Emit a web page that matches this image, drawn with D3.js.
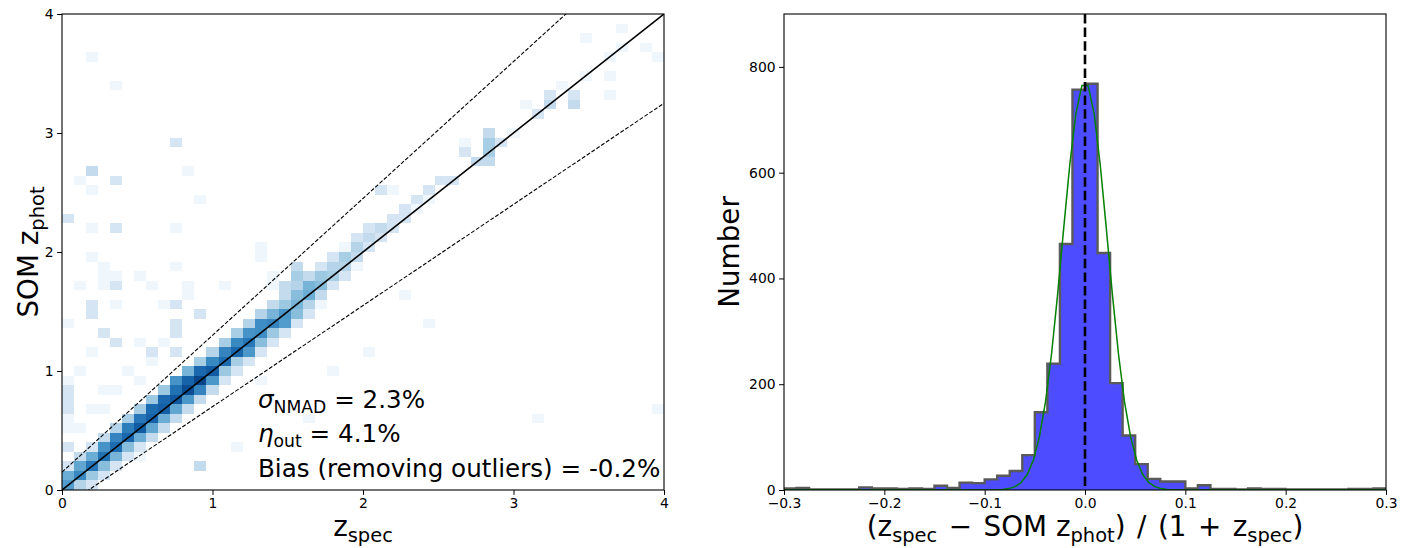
<!DOCTYPE html>
<html><head><meta charset="utf-8">
<script src="https://cdn.jsdelivr.net/npm/d3@7"></script>
<style>
body{margin:0;background:#fff}
svg{display:block}
text{font-family:"DejaVu Sans",sans-serif;fill:#000}
</style>
</head><body>
<svg id="c" width="1416" height="548"></svg>
<script>
// ---------------- DATA ----------------
// 2D histogram (z_spec bin index, z_phot bin index, count); bins of 0.08 over [0,4]
const hist2dBin = 0.08;
const hist2dCells = [
[0,0,18],[0,1,12],[0,2,2],
[1,0,4],[1,1,28],[1,2,14],[1,3,3],
[2,0,2],[2,1,6],[2,2,40],[2,3,12],[2,4,2],
[3,1,2],[3,2,8],[3,3,45],[3,4,22],[3,5,3],
[4,2,2],[4,3,10],[4,4,50],[4,5,30],[4,6,4],
[5,3,2],[5,4,8],[5,5,55],[5,6,35],[5,7,5],
[6,4,2],[6,5,12],[6,6,70],[6,7,40],[6,8,5],
[7,5,3],[7,6,14],[7,7,60],[7,8,50],[7,9,6],
[8,6,3],[8,7,12],[8,8,65],[8,9,55],[8,10,6],
[9,7,3],[9,8,14],[9,9,75],[9,10,45],[9,11,22],
[10,8,3],[10,9,20],[10,10,95],[10,11,60],[10,12,10],
[11,9,3],[11,10,30],[11,11,110],[11,12,55],[11,13,5],
[12,10,3],[12,11,20],[12,12,70],[12,13,28],[12,14,4],
[13,11,2],[13,12,6],[13,13,50],[13,14,30],[13,15,5],
[14,12,2],[14,13,5],[14,14,55],[14,15,28],[14,16,5],
[15,13,2],[15,14,20],[15,15,40],[15,16,22],[15,17,4],
[16,14,2],[16,15,8],[16,16,25],[16,17,25],[16,18,4],
[17,15,2],[17,16,6],[17,17,30],[17,18,10],[17,19,3],
[18,16,2],[18,17,18],[18,18,20],[18,19,6],[18,20,3],
[19,17,2],[19,18,8],[19,19,10],[19,20,8],[19,21,4],
[20,18,2],[20,19,4],[20,20,12],[20,21,10],[20,22,3],
[21,19,1],[21,20,3],[21,21,8],[21,22,6],[21,23,2],
[22,21,2],[22,22,5],[22,23,4],[22,24,2],
[23,22,2],[23,23,4],[23,24,5],[23,25,1],
[24,23,1],[24,24,3],[24,25,4],[24,26,2],
[25,25,2],[25,26,3],[25,27,2],
[26,26,2],[26,27,3],[26,31,2],
[27,27,2],[27,28,2],[27,31,1],
[28,28,2],[28,29,2],
[29,29,1],[29,30,2],
[30,30,1],[30,31,2],
[31,32,2],[32,32,2],
[33,35,2],[33,36,1],
[34,34,3],[35,34,3],[35,35,5],[35,36,5],[35,37,3],
[36,36,2],[37,37,1],[38,40,1],[39,39,2],[40,40,3],[40,41,2],[41,42,1],[42,40,3],[42,41,2],
[43,43,1],[43,47,1],[45,41,1],[45,43,1],[45,45,1],[46,46,1],[46,48,1],[48,46,1],[49,45,1],
[2,45,1],[4,42,1],[9,36,2],[2,33,3],[10,33,1],[1,32,1],[4,32,2],[2,31,1],[11,30,1],[0,28,2],
[2,27,1],[4,27,2],[9,27,1],[2,24,1],[16,24,1],[16,25,1],[3,22,1],[4,22,1],[3,23,1],[6,22,1],
[9,23,1],[1,21,1],[3,21,1],[4,21,2],[7,21,1],[10,21,1],[13,21,1],[17,21,1],[17,22,1],[18,21,3],
[19,22,5],[19,23,3],[2,19,2],[2,18,2],[4,19,1],[9,19,2],[8,19,1],[0,17,1],[9,17,2],[11,18,2],
[3,16,2],[6,15,1],[8,15,1],[4,15,2],[0,9,2],[0,10,2],[0,11,1],[0,8,2],[0,7,1],[0,4,2],[0,6,1],
[11,2,3],[6,3,1],[9,14,2],[9,16,2],[7,14,2],[10,20,1],
[39,7,1],[49,8,1],[16,11,1],[22,12,1],[25,14,1],[30,17,1],[28,20,1],[20,7,1],[14,4,1],
[1,12,1],[2,14,1],[3,10,1],[5,12,1],[1,6,1],[3,8,1],[6,11,1],[7,13,1],[4,10,1],[2,8,1]
];
const outlierCut = 0.15;
const statLines = [
  {sym:"σ", sub:"NMAD", rest:" = 2.3%"},
  {sym:"η", sub:"out", rest:" = 4.1%"},
  {sym:"", sub:"", rest:"Bias (removing outliers) = -0.2%"}
];
const leftTicks = [0,1,2,3,4];

// residual histogram: 48 bins over [-0.3, 0.3]
const residRange = [-0.3, 0.3];
const residCounts = [3,4,1,1,1,1,5,3,3,2,3,2,8,4,14,13,20,27,36,66,147,239,465,757,
                     768,448,202,103,49,21,16,16,3,9,2,2,1,3,2,2,1,1,1,1,1,2,2,3];
const gaussFit = {amp:772, mu:0.0, sigma:0.0225};
const rightXTicks = [-0.3,-0.2,-0.1,0.0,0.1,0.2,0.3];
const rightYTicks = [0,200,400,600,800];

// ---------------- LAYOUT ----------------
const svg = d3.select("#c");
const L = {x0:62, x1:664, y0:14, y1:490};
const R = {x0:784, x1:1386, y0:14, y1:490};
const tickFont = 13.9, labelFont = 27.8, annFont = 24.6;
const tickLen = 4.9, tickPad = 3.5;

// ===== LEFT PANEL =====
const xL = d3.scaleLinear().domain([0,4]).range([L.x0,L.x1]);
const yL = d3.scaleLinear().domain([0,4]).range([L.y1,L.y0]);
const color = d3.scaleSequentialLog(d3.interpolateBlues).domain([0.8,170]).clamp(true);

svg.append("clipPath").attr("id","clipL").append("rect")
  .attr("x",L.x0).attr("y",L.y0).attr("width",L.x1-L.x0).attr("height",L.y1-L.y0);

const gL = svg.append("g");
gL.append("g").attr("clip-path","url(#clipL)").attr("shape-rendering","crispEdges")
  .selectAll("rect").data(hist2dCells).join("rect")
  .attr("x",d=>xL(d[0]*hist2dBin))
  .attr("y",d=>yL((d[1]+1)*hist2dBin))
  .attr("width",d=>xL((d[0]+1)*hist2dBin)-xL(d[0]*hist2dBin))
  .attr("height",d=>yL(d[1]*hist2dBin)-yL((d[1]+1)*hist2dBin))
  .attr("fill",d=>color(d[2]));

const lineG = gL.append("g").attr("clip-path","url(#clipL)").attr("fill","none");
const line = d3.line().x(d=>xL(d[0])).y(d=>yL(d[1]));
lineG.append("path").attr("d",line([[0,0],[4,4]])).attr("stroke","#000").attr("stroke-width",1.6);
lineG.append("path").attr("d",line([[0,outlierCut],[4,4+outlierCut*5]])).attr("stroke","#000")
  .attr("stroke-width",1.1).attr("stroke-dasharray","4,1.8");
lineG.append("path").attr("d",line([[0,-outlierCut],[4,4-outlierCut*5]])).attr("stroke","#000")
  .attr("stroke-width",1.1).attr("stroke-dasharray","4,1.8");

// axes left
const axXL = d3.axisBottom(xL).tickValues(leftTicks).tickSize(tickLen).tickPadding(tickPad).tickFormat(d3.format("d"));
const axYL = d3.axisLeft(yL).tickValues(leftTicks).tickSize(tickLen).tickPadding(tickPad).tickFormat(d3.format("d"));
function styleAxis(g){
  g.select(".domain").remove();
  g.selectAll("line").attr("stroke","#000").attr("stroke-width",1);
  g.selectAll("text").attr("font-size",tickFont).attr("font-family","DejaVu Sans").attr("fill","#000");
}
gL.append("g").attr("transform",`translate(0,${L.y1})`).call(axXL).call(styleAxis);
gL.append("g").attr("transform",`translate(${L.x0},0)`).call(axYL).call(styleAxis);
gL.append("rect").attr("x",L.x0).attr("y",L.y0).attr("width",L.x1-L.x0).attr("height",L.y1-L.y0)
  .attr("fill","none").attr("stroke","#000").attr("stroke-width",1.1);

// stats text
const annY = [408, 442, 477];
statLines.forEach((s,k)=>{
  const t = gL.append("text").attr("x",258).attr("y",annY[k]).attr("font-size",annFont);
  if(s.sym){
    t.append("tspan").attr("font-style","italic").text(s.sym);
    t.append("tspan").attr("font-size",annFont*0.7).attr("dy",annFont*0.2).text(s.sub);
    t.append("tspan").attr("dy",-annFont*0.2).text(s.rest);
  } else t.append("tspan").text(s.rest);
});

// axis labels left
const xlabL = gL.append("text").attr("x",(L.x0+L.x1)/2).attr("y",536).attr("text-anchor","middle").attr("font-size",labelFont);
xlabL.append("tspan").text("z");
xlabL.append("tspan").attr("font-size",labelFont*0.7).attr("dy",labelFont*0.2).text("spec");
const ylabL = gL.append("text").attr("transform",`translate(38,${(L.y0+L.y1)/2}) rotate(-90)`).attr("text-anchor","middle").attr("font-size",labelFont);
ylabL.append("tspan").text("SOM z");
ylabL.append("tspan").attr("font-size",labelFont*0.7).attr("dy",labelFont*0.2).text("phot");

// ===== RIGHT PANEL =====
const xR = d3.scaleLinear().domain(residRange).range([R.x0,R.x1]);
const yR = d3.scaleLinear().domain([0,900]).range([R.y1,R.y0]);
const nb = residCounts.length;
const bw = (residRange[1]-residRange[0])/nb;
const bins = residCounts.map((c,k)=>({lo:residRange[0]+k*bw, hi:residRange[0]+(k+1)*bw, c}));

svg.append("clipPath").attr("id","clipR").append("rect")
  .attr("x",R.x0).attr("y",R.y0).attr("width",R.x1-R.x0).attr("height",R.y1-R.y0);
const gR = svg.append("g");
const plotR = gR.append("g").attr("clip-path","url(#clipR)");
plotR.append("g").attr("shape-rendering","crispEdges").selectAll("rect").data(bins).join("rect")
  .attr("x",d=>xR(d.lo)).attr("width",d=>xR(d.hi)-xR(d.lo)+0.3)
  .attr("y",d=>yR(d.c)).attr("height",d=>yR(0)-yR(d.c))
  .attr("fill","#4d4dff");
// step outline
const stepPts = [[bins[0].lo,0]];
bins.forEach(b=>{stepPts.push([b.lo,b.c]);stepPts.push([b.hi,b.c]);});
stepPts.push([bins[nb-1].hi,0]);
plotR.append("path").attr("d",d3.line().x(d=>xR(d[0])).y(d=>yR(d[1]))(stepPts))
  .attr("fill","none").attr("stroke","#5a5a5a").attr("stroke-width",2.4).attr("stroke-linejoin","miter");
// gaussian fit (100 samples)
const gx = d3.range(100).map(k=>residRange[0]+k*(residRange[1]-residRange[0])/99);
const gpts = gx.map(x=>[x, gaussFit.amp*Math.exp(-((x-gaussFit.mu)**2)/(2*gaussFit.sigma**2))]);
plotR.append("path").attr("d",d3.line().x(d=>xR(d[0])).y(d=>yR(d[1]))(gpts))
  .attr("fill","none").attr("stroke","green").attr("stroke-width",1.5);
// vertical dashed line at 0
plotR.append("line").attr("x1",xR(0)).attr("x2",xR(0)).attr("y1",R.y0).attr("y2",R.y1)
  .attr("stroke","#000").attr("stroke-width",2.6).attr("stroke-dasharray","9.5,4.1");

const fmtR = d=> (d<0?"\u2212":"")+Math.abs(d).toFixed(1);
const axXR = d3.axisBottom(xR).tickValues(rightXTicks).tickSize(tickLen).tickPadding(tickPad).tickFormat(fmtR);
const axYR = d3.axisLeft(yR).tickValues(rightYTicks).tickSize(tickLen).tickPadding(tickPad).tickFormat(d3.format("d"));
gR.append("g").attr("transform",`translate(0,${R.y1})`).call(axXR).call(styleAxis);
gR.append("g").attr("transform",`translate(${R.x0},0)`).call(axYR).call(styleAxis);
gR.append("rect").attr("x",R.x0).attr("y",R.y0).attr("width",R.x1-R.x0).attr("height",R.y1-R.y0)
  .attr("fill","none").attr("stroke","#000").attr("stroke-width",1.1);

// labels right
const xlabR = gR.append("text").attr("x",(R.x0+R.x1)/2).attr("y",536).attr("text-anchor","middle").attr("font-size",labelFont);
const gap = 11.5;
const parts = [
  {t:"(z"}, {t:"spec", s:1}, {t:"\u2212", dx:gap}, {t:"SOM z", dx:gap}, {t:"phot", s:1},
  {t:")"}, {t:"/", dx:gap}, {t:"(1", dx:gap}, {t:"+", dx:gap}, {t:"z", dx:gap}, {t:"spec", s:1}, {t:")"}
];
let inSub = false;
parts.forEach(p=>{
  const ts = xlabR.append("tspan").text(p.t);
  if(p.s){ ts.attr("font-size",labelFont*0.7).attr("dy",labelFont*0.2); inSub = true; }
  else if(inSub){ ts.attr("dy",-labelFont*0.2); inSub = false; }
  if(p.dx) ts.attr("dx",p.dx);
});
gR.append("text").attr("transform",`translate(739,${(R.y0+R.y1)/2}) rotate(-90)`).attr("text-anchor","middle")
  .attr("font-size",labelFont).text("Number");
</script>
</body></html>
